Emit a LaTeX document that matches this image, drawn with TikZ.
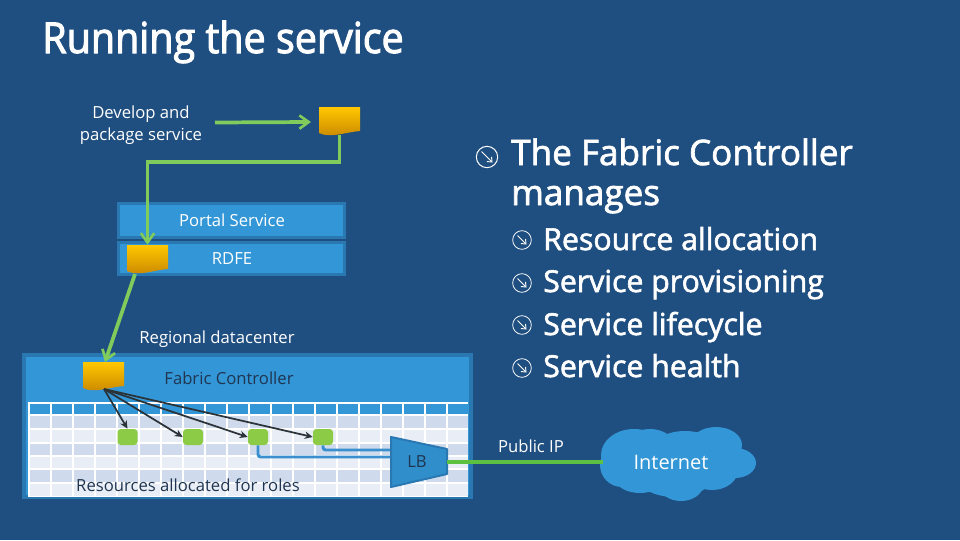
\documentclass[tikz,border=0pt]{standalone}
\usepackage{fontspec}
\setmainfont{Open Sans}
\newfontfamily\hfont[FakeBold=2]{Open Sans}
\newfontfamily\tfont[FakeBold=2.4,FakeStretch=0.925]{Open Sans}
\usetikzlibrary{arrows.meta,calc}
\definecolor{bgblue}{HTML}{1F4E80}
\definecolor{panel}{HTML}{3396D6}
\definecolor{panelb}{HTML}{2A78B2}
\definecolor{rowa}{HTML}{CFDBEC}
\definecolor{rowb}{HTML}{E9EEF6}
\definecolor{garrow}{HTML}{7FCB5C}
\definecolor{gnode}{HTML}{8CCB45}
\definecolor{gline}{HTML}{5CC040}
\definecolor{inkdark}{HTML}{1F3550}
\definecolor{ydark}{HTML}{CC8A00}
\definecolor{ytop}{HTML}{FFC800}
\definecolor{arrowk}{HTML}{2B3238}
\definecolor{wire}{HTML}{3A90CE}
\newcommand{\yellowdoc}[3]{%
 \node[inner sep=0pt,minimum width=41pt*0.75,minimum height=28pt*0.75] (#1) at (#2,#3) {};
 \shade[top color=ytop,bottom color=ydark]
  ($(#2,#3)+(-20.5,-14)$) -- ($(#2,#3)+(20.5,-14)$) -- ($(#2,#3)+(20.5,10)$)
  .. controls ($(#2,#3)+(8,11)$) and ($(#2,#3)+(-2,15)$) .. ($(#2,#3)+(-12,14)$)
  .. controls ($(#2,#3)+(-16,14)$) and ($(#2,#3)+(-18,13)$) .. ($(#2,#3)+(-20.5,12)$) -- cycle;}
\tikzset{
 gr/.style={draw=garrow,line width=2.8pt,-{Straight Barb[length=7pt,width=10pt,line width=2pt]}},
 bk/.style={draw=arrowk,line width=1.3pt,-{Stealth[length=6pt,width=5.5pt]}},
 bl/.style={draw=wire,line width=2.2pt,rounded corners=2pt},
 band/.style={draw=panelb,line width=2.2pt,fill=panel,inner sep=0pt,minimum width=169pt,text=white},
 vm/.style={fill=gnode,rounded corners=2.5pt,inner sep=0pt,minimum width=15pt,minimum height=12pt},
 bigb/.style={draw=white,line width=.75pt,circle,inner sep=0pt,minimum size=16pt},
 smallb/.style={draw=white,line width=.6pt,circle,inner sep=0pt,minimum size=14pt},
 lbl/.style={font=\fontsize{12.5pt}{16.5pt}\selectfont,align=center,inner sep=0pt,text=white},
 dlbl/.style={lbl,text=inkdark},
 head/.style={font=\hfont\fontsize{26.3pt}{30pt}\selectfont,text=white,anchor=base west,inner sep=0pt},
 sub/.style={font=\hfont\fontsize{22.7pt}{25pt}\selectfont,text=white,anchor=base west,inner sep=0pt},
}
\begin{document}
\begin{tikzpicture}[x=0.75pt,y=-0.75pt]
\useasboundingbox (0,0) rectangle (960,540);
\fill[bgblue] (0,0) rectangle (960,540);
\node[font=\tfont\fontsize{32pt}{36pt}\selectfont,text=white,anchor=base west,inner sep=0pt] (title) at (42,53) {Running the service};
% develop
\node[lbl] (dev) at (141,125) {Develop and\\package service};
\node[band,minimum height=26pt] (portal) at (231.5,220.5) {};
\node[lbl] (portalt) at (232,220) {Portal Service};
\node[band,minimum height=24.5pt] (rdfe) at (231.5,258.5) {};
\node[lbl] (rdfet) at (232,259) {RDFE};
\node[lbl] (region) at (217,339) {Regional datacenter};
% big panel
\node[draw=panelb,line width=3pt,fill=panel,inner sep=0pt,minimum width=335pt,minimum height=107pt] (fabric) at (247.5,426) {};
% grid
\fill[white] (27.5,402) rectangle (468,497);
\foreach \r/\ya/\yb/\c in {0/403.5/413.8/panel,1/416/428/rowa,2/430/441.5/rowb,3/443.5/455/rowa,4/457/468/rowb,5/470/482/rowa,6/484/495.5/rowb}{
 \foreach \k in {0,...,19}{
  \fill[\c] ({29.5+22*\k},\ya) rectangle ({49.5+22*\k},\yb);
 }
}
\node[dlbl] (fc) at (229,378) {Fabric Controller};
\node[dlbl] (res) at (188,485) {Resources allocated for roles};
% yellow
\yellowdoc{d1}{339.5}{121}
\yellowdoc{d2}{147.5}{259}
\yellowdoc{d3}{103.5}{376}
% green arrows
\coordinate (devr) at (215,122.5);
\coordinate (d1l) at (311,122);
\draw[gr] (devr) -- (d1l);
\draw[gr] (d1.south) -- ++(0,27) -| (d2.north);
\coordinate (d2b) at (135,274);
\coordinate (d3t) at (105,362);
\draw[gr] (d2b) -- (d3t);
% VM nodes
\node[vm] (v1) at (127.5,437) {};
\node[vm] (v2) at (193,437) {};
\node[vm] (v3) at (258,437) {};
\node[vm] (v4) at (323,437) {};
\coordinate (src) at (104,389);
\draw[bk] (src) -- (v1.north);
\draw[bk] (src) -- (v2.west);
\draw[bk] (src) -- (v3.west);
\draw[bk] (src) -- (v4.west);
% LB
\draw[bl] (v3.south) |- (391,457);
\draw[bl] (v4.south) |- (391,450);
\node[inner sep=0pt,minimum size=0pt] (lbe) at (447,462) {};
\draw[draw=panelb,line width=1.5pt,fill=panel!95!black,line join=round] (391,437) -- (447,449) -- (447,474) -- (391,487) -- cycle;
\node[dlbl] (lbt) at (417,462) {LB};
% cloud
\fill[panel] (634,455) ellipse (33 and 26);
\fill[panel] (622,465) ellipse (22 and 22);
\fill[panel] (650,447) ellipse (25 and 18);
\fill[panel] (685,446) ellipse (30 and 15);
\fill[panel] (716,445) ellipse (26 and 18);
\fill[panel] (735,463) ellipse (21 and 15);
\fill[panel] (712,470) ellipse (26 and 20);
\fill[panel] (675,480) ellipse (35 and 17);
\fill[panel] (681,485) ellipse (22 and 16);
\fill[panel] (640,478) ellipse (25 and 15);
\fill[panel] (680,462) ellipse (45 and 25);
\coordinate (cloudw) at (603,462);
\draw[draw=gline,line width=2.4pt] (lbe) -- (cloudw);
\node[lbl,font=\fontsize{15pt}{18pt}\selectfont] (inet) at (671,462) {Internet};
\node[lbl] (pip) at (531,446) {Public IP};
% bullets
\foreach \n/\px/\py/\st/\d in {b0/487/157/bigb/5.5,b1/522/240/smallb/4.5,b2/522/283/smallb/4.5,b3/522/325/smallb/4.5,b4/522/368/smallb/4.5}{
 \node[\st] (\n) at (\px,\py) {};
 \draw[white,line width=.7pt,-{Straight Barb[length=3pt,width=5pt]}] ($(\px,\py)+(-\d,-\d)$) -- ($(\px,\py)+(\d,\d)$);
}
\node[head] (h) at (511,165) {The Fabric Controller};
\node[head] (h2) at (511,205) {manages};
\node[sub] (s1) at (543,250) {Resource allocation};
\node[sub] (s2) at (543,292) {Service provisioning};
\node[sub] (s3) at (543,335) {Service lifecycle};
\node[sub] (s4) at (543,377) {Service health};
\end{tikzpicture}
\end{document}
